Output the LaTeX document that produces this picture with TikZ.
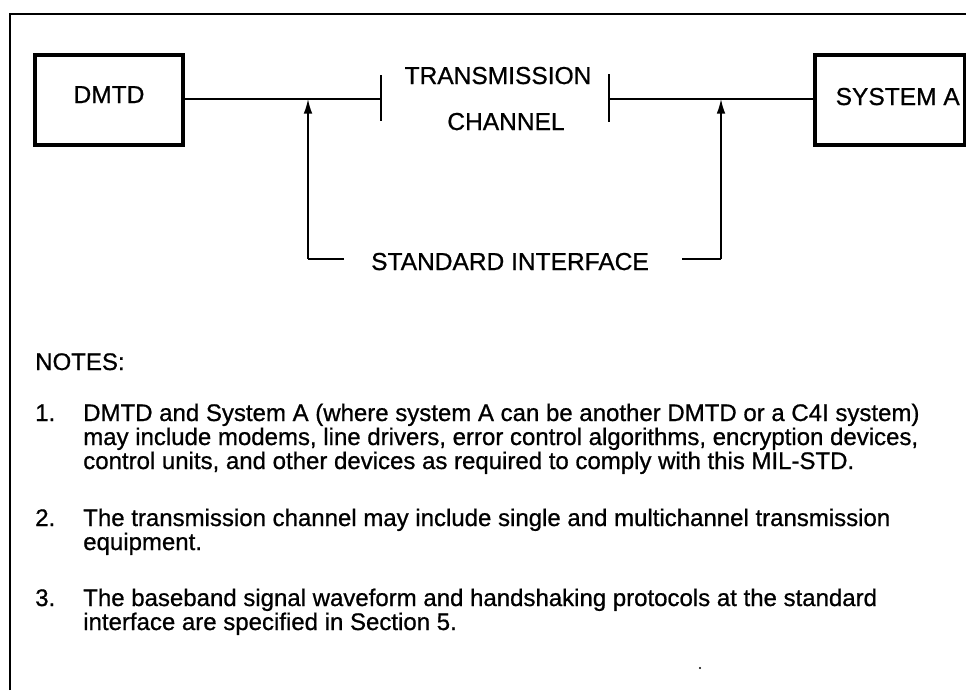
\documentclass[tikz,border=0pt]{standalone}
\usepackage{fontspec}
\setmainfont[FakeBold=0.8]{Liberation Sans}
\usetikzlibrary{arrows.meta}
\begin{document}
\begin{tikzpicture}[x=0.75pt,y=-0.75pt,
  frame/.style={line width=1.1pt},
  blk/.style={draw,line width=3pt,inner sep=0pt},
  conn/.style={line width=1.1pt},
  lbl/.style={inner sep=0pt,anchor=base,font=\fontsize{18.4}{22}\selectfont},
  note/.style={inner sep=0pt,anchor=base west,font=\fontsize{18}{22}\selectfont},
  arr/.style={line width=1.1pt,-{Latex[length=11pt,width=6.5pt]}}]
\useasboundingbox (0,0) rectangle (966,690);
% frame
\draw[frame] (10,690) -- (10,14) -- (966,14);
% boxes
\node[blk,minimum width=148*0.75pt,minimum height=90*0.75pt] (dmtd) at (109,100) {};
\node[lbl] (dmtdt) at (109,103) {DMTD};
\node[blk,minimum width=150*0.75pt,minimum height=90*0.75pt] (sysa) at (890,100) {};
\node[lbl,anchor=base east] (sysat) at (960,105) {SYSTEM A};
% channel
\node[lbl] (tr) at (498,84) {TRANSMISSION};
\node[lbl] (ch) at (506,130) {CHANNEL};
\coordinate (tl) at (381,99);
\coordinate (trr) at (609,99);
\coordinate (tlt) at (381,75);
\coordinate (tlb) at (381,121);
\coordinate (trt) at (609,74);
\coordinate (trb) at (609,122);
\draw[conn] (dmtd.east |- tl) -- (tl);
\draw[conn] (tlt) -- (tlb);
\draw[conn] (trt) -- (trb);
\draw[conn] (trr) -- (sysa.west |- trr);
% standard interface
\node[lbl] (si) at (510,270) {STANDARD INTERFACE};
\coordinate (a1) at (308,259);
\coordinate (a1e) at (344,259);
\coordinate (a1t) at (308,99);
\coordinate (a2) at (721,259);
\coordinate (a2s) at (682,259);
\coordinate (a2t) at (721,99);
\draw[conn] (a1e) -- (a1);
\draw[arr] (a1) -- (a1t);
\draw[conn] (a2s) -- (a2);
\draw[arr] (a2) -- (a2t);
% notes
\node[note] (notes) at (35,370) {NOTES:};
\node[note] (n1) at (35,421) {1.};
\node[note] (n1a) at (83,421) {DMTD and System A (where system A can be another DMTD or a C4I system)};
\node[note] (n1b) at (83,445) {may include modems, line drivers, error control algorithms, encryption devices,};
\node[note] (n1c) at (83,469) {control units, and other devices as required to comply with this MIL-STD.};
\node[note] (n2) at (35,526) {2.};
\node[note] (n2a) at (83,526) {The transmission channel may include single and multichannel transmission};
\node[note] (n2b) at (83,550) {equipment.};
\node[note] (n3) at (35,606) {3.};
\node[note] (n3a) at (83,606) {The baseband signal waveform and handshaking protocols at the standard};
\node[note] (n3b) at (83,630) {interface are specified in Section 5.};
\fill (700,668) circle (1.2);
\end{tikzpicture}
\end{document}
